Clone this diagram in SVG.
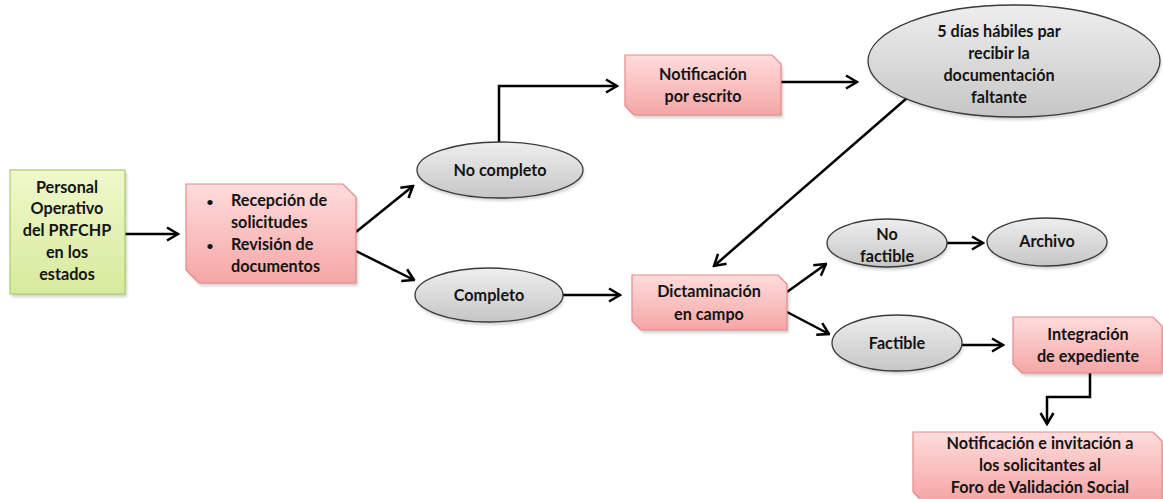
<svg xmlns="http://www.w3.org/2000/svg" width="1163" height="499" viewBox="0 0 1163 499">
<style>
text{font-family:Lato,"Noto Sans","Liberation Sans",sans-serif;font-weight:bold;font-size:16.2px;fill:#141414;text-anchor:middle}
.bul{font-size:12px}
.pink{fill:url(#gp);stroke:#e48a8a;stroke-width:1.2}
.green{fill:url(#gg);stroke:#a8cf6a;stroke-width:1.2}
.ell{fill:url(#ge);stroke:#3a3a3a;stroke-width:1.3}
.sh{fill:#000;opacity:0.18}
.con{fill:none;stroke:#000;stroke-width:2.5;marker-end:url(#arr)}
</style>
<defs>
<linearGradient id="gp" x1="0" y1="0" x2="0" y2="1"><stop offset="0" stop-color="#ffdcdc"/><stop offset="1" stop-color="#f5a6a6"/></linearGradient>
<linearGradient id="gg" x1="0" y1="0" x2="0" y2="1"><stop offset="0" stop-color="#f0f8cc"/><stop offset="1" stop-color="#d6ea9c"/></linearGradient>
<linearGradient id="ge" x1="0" y1="0" x2="0" y2="1"><stop offset="0" stop-color="#eeeeee"/><stop offset="1" stop-color="#c6c6c6"/></linearGradient>
<marker id="arr" viewBox="0 0 14 16" refX="12.5" refY="8" markerWidth="14" markerHeight="16" markerUnits="userSpaceOnUse" orient="auto">
<path d="M1.5,1.5 L12.5,8 L1.5,14.5" fill="none" stroke="#000" stroke-width="2.5"/>
</marker>
<filter id="blur" x="-10%" y="-10%" width="120%" height="130%"><feGaussianBlur stdDeviation="1.5"/></filter>
</defs>

<g id="connectors">
<line class="con" x1="125" y1="234" x2="178" y2="234"/>
<line class="con" x1="356" y1="232" x2="413" y2="186"/>
<line class="con" x1="356" y1="251" x2="414" y2="280"/>
<polyline class="con" points="499,142 499,86 617,86"/>
<line class="con" x1="781" y1="82" x2="857" y2="82"/>
<line class="con" x1="907" y1="98" x2="714" y2="266"/>
<line class="con" x1="563" y1="295" x2="620" y2="295"/>
<line class="con" x1="787" y1="292" x2="826" y2="264"/>
<line class="con" x1="787" y1="312" x2="829" y2="334"/>
<line class="con" x1="947" y1="243" x2="983" y2="243"/>
<line class="con" x1="962" y1="345" x2="1003" y2="345"/>
<polyline class="con" points="1090,373 1090,397 1047,397 1047,424"/>
</g>

<g id="personal">
<rect class="sh" x="12" y="173" width="115" height="124" filter="url(#blur)"/>
<rect class="green" x="10" y="170" width="115" height="124"/>
<text x="67" y="193">Personal</text>
<text x="67" y="214">Operativo</text>
<text x="67" y="236">del PRFCHP</text>
<text x="67" y="258">en los</text>
<text x="67" y="280">estados</text>
</g>

<g id="recepcion">
<path class="sh" d="M188,187 H345 L358,200 V286 H201 L188,273 Z" filter="url(#blur)"/>
<path class="pink" d="M186,184 H343 L356,197 V283 H199 L186,270 Z"/>
<text class="bul" x="210" y="206">•</text>
<text x="231" y="206" style="text-anchor:start">Recepción de</text>
<text x="231" y="228" style="text-anchor:start">solicitudes</text>
<text class="bul" x="210" y="250">•</text>
<text x="231" y="250" style="text-anchor:start">Revisión de</text>
<text x="231" y="272" style="text-anchor:start">documentos</text>
</g>

<g id="nocompleto">
<ellipse class="sh" cx="501" cy="173" rx="83" ry="28" filter="url(#blur)"/>
<ellipse class="ell" cx="500" cy="170" rx="83" ry="28"/>
<text x="500" y="176">No completo</text>
</g>

<g id="notificacion">
<path class="sh" d="M627,58 H774 L783,67 V118 H636 L627,109 Z" filter="url(#blur)"/>
<path class="pink" d="M625,55 H772 L781,64 V115 H634 L625,106 Z"/>
<text x="703" y="80">Notificación</text>
<text x="703" y="102">por escrito</text>
</g>

<g id="cincodias">
<ellipse class="sh" cx="1015" cy="64" rx="146" ry="56" filter="url(#blur)"/>
<ellipse class="ell" cx="1014" cy="61" rx="146" ry="56"/>
<text x="999" y="37">5 días hábiles par</text>
<text x="999" y="59">recibir la</text>
<text x="999" y="81">documentación</text>
<text x="999" y="103">faltante</text>
</g>

<g id="completo">
<ellipse class="sh" cx="490" cy="298" rx="74" ry="27" filter="url(#blur)"/>
<ellipse class="ell" cx="489" cy="295" rx="74" ry="27"/>
<text x="489" y="301">Completo</text>
</g>

<g id="dictaminacion">
<path class="sh" d="M634,278 H780 L789,287 V333 H643 L634,324 Z" filter="url(#blur)"/>
<path class="pink" d="M632,275 H778 L787,284 V330 H641 L632,321 Z"/>
<text x="709" y="297">Dictaminación</text>
<text x="709" y="320">en campo</text>
</g>

<g id="nofactible">
<ellipse class="sh" cx="888" cy="246" rx="60" ry="24" filter="url(#blur)"/>
<ellipse class="ell" cx="887" cy="243" rx="60" ry="24"/>
<text x="887" y="240">No</text>
<text x="887" y="262">factible</text>
</g>

<g id="archivo">
<ellipse class="sh" cx="1048" cy="245" rx="60" ry="24" filter="url(#blur)"/>
<ellipse class="ell" cx="1047" cy="242" rx="60" ry="24"/>
<text x="1047" y="247">Archivo</text>
</g>

<g id="factible">
<ellipse class="sh" cx="898" cy="346" rx="65" ry="28" filter="url(#blur)"/>
<ellipse class="ell" cx="897" cy="343" rx="65" ry="28"/>
<text x="897" y="349">Factible</text>
</g>

<g id="integracion">
<path class="sh" d="M1015,320 H1155 L1164,329 V376 H1024 L1015,367 Z" filter="url(#blur)"/>
<path class="pink" d="M1013,317 H1153 L1162,326 V373 H1022 L1013,364 Z"/>
<text x="1088" y="340">Integración</text>
<text x="1088" y="362">de expediente</text>
</g>

<g id="notificacion2">
<path class="sh" d="M915,435 H1155 L1164,444 V503 H924 L915,495 Z" filter="url(#blur)"/>
<path class="pink" d="M913,432 H1153 L1162,441 V500 H921 L913,492 Z"/>
<text x="1040" y="449">Notificación e invitación a</text>
<text x="1040" y="471">los solicitantes al</text>
<text x="1040" y="493">Foro de Validación Social</text>
</g>
</svg>
